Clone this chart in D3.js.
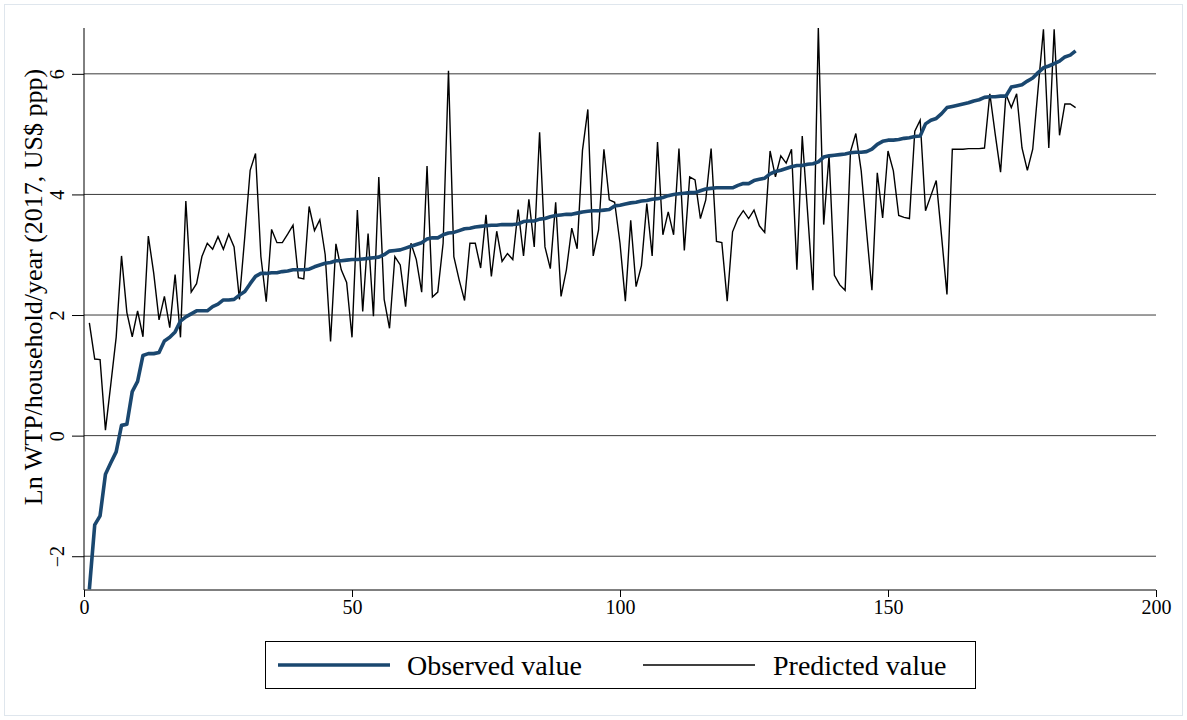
<!DOCTYPE html>
<html>
<head>
<meta charset="utf-8">
<script src="https://d3js.org/d3.v7.min.js"></script>
<style>
  body { margin: 0; background: #fff; }
  text { font-family: "Liberation Serif", "Times New Roman", serif; fill: #000; }
</style>
</head>
<body>
<div id="chart"></div>
<script>
// observed ln WTP, sorted (index 1..185)
var observed = [-2.55,-1.48,-1.33,-0.64,-0.45,-0.27,0.17,0.19,0.73,0.9,
  1.33,1.36,1.36,1.38,1.57,1.63,1.72,1.9,1.97,2.02,
  2.07,2.07,2.07,2.14,2.18,2.25,2.25,2.26,2.33,2.39,
  2.52,2.64,2.69,2.69,2.7,2.7,2.72,2.73,2.75,2.75,
  2.75,2.76,2.8,2.83,2.86,2.87,2.9,2.9,2.91,2.92,
  2.92,2.93,2.94,2.95,2.96,3.0,3.06,3.07,3.08,3.11,
  3.14,3.17,3.2,3.26,3.28,3.28,3.33,3.36,3.37,3.4,
  3.43,3.44,3.46,3.47,3.48,3.49,3.49,3.5,3.5,3.5,
  3.51,3.55,3.56,3.56,3.59,3.6,3.63,3.65,3.66,3.67,
  3.67,3.69,3.71,3.72,3.73,3.73,3.74,3.75,3.81,3.82,
  3.84,3.86,3.87,3.89,3.9,3.92,3.93,3.95,3.98,4.0,
  4.01,4.02,4.03,4.03,4.06,4.09,4.1,4.11,4.11,4.11,
  4.11,4.15,4.18,4.18,4.23,4.25,4.27,4.34,4.38,4.4,
  4.43,4.46,4.48,4.48,4.5,4.51,4.54,4.62,4.64,4.65,
  4.66,4.67,4.69,4.7,4.7,4.71,4.75,4.83,4.88,4.9,
  4.9,4.91,4.93,4.94,4.96,4.97,5.17,5.23,5.26,5.34,
  5.44,5.46,5.48,5.5,5.52,5.55,5.57,5.61,5.62,5.62,
  5.63,5.63,5.78,5.8,5.82,5.88,5.93,6.02,6.1,6.13,
  6.17,6.21,6.28,6.31,6.38];

// predicted ln WTP, same order
var predicted = [1.87,1.27,1.26,0.09,0.85,1.63,2.98,2.04,1.64,2.07,
  1.64,3.31,2.70,1.92,2.31,1.79,2.67,1.63,3.89,2.38,
  2.52,2.97,3.19,3.09,3.30,3.09,3.34,3.13,2.26,3.3,
  4.40,4.68,2.97,2.22,3.42,3.20,3.20,3.34,3.49,2.62,
  2.60,3.80,3.40,3.58,3.00,1.56,3.18,2.75,2.54,1.63,
  3.74,2.06,3.35,1.98,4.29,2.26,1.78,2.97,2.83,2.14,
  3.19,2.92,2.38,4.47,2.30,2.38,3.19,6.05,2.97,2.58,
  2.24,3.19,3.19,2.78,3.66,2.64,3.39,2.89,3.02,2.92,
  3.75,2.98,3.92,3.13,5.03,3.13,2.77,3.87,2.31,2.75,
  3.44,3.10,4.73,5.41,2.98,3.41,4.75,3.91,3.87,3.19,
  2.23,3.57,2.47,2.82,3.85,2.98,4.87,3.33,3.71,3.33,
  4.76,3.07,4.29,4.24,3.60,3.91,4.76,3.22,3.20,2.23,
  3.38,3.60,3.73,3.60,3.74,3.48,3.37,4.72,4.29,4.64,
  4.52,4.75,2.75,4.97,3.70,2.41,6.76,3.50,4.65,2.66,
  2.50,2.41,4.71,5.01,4.39,3.39,2.41,4.36,3.61,4.72,
  4.39,3.65,3.62,3.60,5.05,5.23,3.73,3.98,4.23,3.30,
  2.34,4.75,4.75,4.75,4.76,4.76,4.76,4.77,5.67,5.00,
  4.37,5.66,5.44,5.67,4.77,4.40,4.75,5.75,6.74,4.77,
  6.74,4.98,5.50,5.50,5.44];

var xTicks = [0, 50, 100, 150, 200];
var yTicks = [-2, 0, 2, 4, 6];
var seriesNames = ["Observed value", "Predicted value"];
var yTitle = "Ln WTP/household/year (2017, US$ ppp)";

var W = 1187, H = 720;
var svg = d3.select("#chart").append("svg")
  .attr("width", W).attr("height", H);

svg.append("rect").attr("width", W).attr("height", H).attr("fill", "#fff");
svg.append("rect")
  .attr("x", 4.5).attr("y", 4.5).attr("width", W - 9).attr("height", H - 9)
  .attr("fill", "none").attr("stroke", "#dfe6ed");

var x = d3.scaleLinear().domain([0, 200]).range([84, 1156]);
var y = d3.scaleLinear().domain([-2.56, 6.76]).range([590, 28]);

// grid lines
svg.append("g").selectAll("line").data(yTicks).enter().append("line")
  .attr("x1", x(0)).attr("x2", x(200))
  .attr("y1", function(d) { return y(d); }).attr("y2", function(d) { return y(d); })
  .attr("stroke", "#3a3a3a").attr("stroke-width", 1);

// y axis, Stata style labels rotated
var yAxis = svg.append("g").attr("transform", "translate(84,0)")
  .call(d3.axisLeft(y).tickValues(yTicks).tickSize(12).tickFormat(d3.format("d")));
yAxis.select(".domain").attr("d", "M0," + y.range()[0] + "V" + y.range()[1]).attr("stroke", "#000");
yAxis.selectAll(".tick line").attr("stroke", "#000");
yAxis.selectAll(".tick text")
  .attr("x", null).attr("dy", null)
  .attr("transform", "translate(-20,0) rotate(-90)")
  .attr("text-anchor", "middle")
  .style("font-size", "20px").style("font-family", "Liberation Serif");

// x axis
var xAxis = svg.append("g").attr("transform", "translate(0,590)")
  .call(d3.axisBottom(x).tickValues(xTicks).tickSize(7).tickFormat(d3.format("d")));
xAxis.select(".domain").attr("d", "M" + x(0) + ",0H" + x(200)).attr("stroke", "#000");
xAxis.selectAll(".tick line").attr("stroke", "#000");
xAxis.selectAll(".tick text").attr("y", 10).attr("dy", "0.71em")
  .style("font-size", "20px").style("font-family", "Liberation Serif");

// axis title
svg.append("text")
  .attr("transform", "translate(42,287) rotate(-90)")
  .attr("text-anchor", "middle")
  .style("font-size", "26px")
  .text(yTitle);

var line = d3.line()
  .x(function(d, i) { return x(i + 1); })
  .y(function(d) { return y(d); });

svg.append("path").datum(predicted)
  .attr("d", line).attr("fill", "none")
  .attr("stroke", "#000").attr("stroke-width", 1.4);

svg.append("path").datum(observed)
  .attr("d", line).attr("fill", "none")
  .attr("stroke", "#1a476f").attr("stroke-width", 3.6)
  .attr("stroke-linejoin", "round");

// legend
var lg = svg.append("g");
lg.append("rect").attr("x", 265.5).attr("y", 641.5).attr("width", 710).attr("height", 47)
  .attr("fill", "#fff").attr("stroke", "#000");
var legendItems = [
  { name: seriesNames[0], x1: 278, x2: 390, tx: 407, color: "#1a476f", w: 3.6 },
  { name: seriesNames[1], x1: 643, x2: 755, tx: 773, color: "#000", w: 1.4 }
];
legendItems.forEach(function(it) {
  lg.append("line").attr("x1", it.x1).attr("x2", it.x2).attr("y1", 665).attr("y2", 665)
    .attr("stroke", it.color).attr("stroke-width", it.w);
  lg.append("text").attr("x", it.tx).attr("y", 675)
    .style("font-size", "28px").text(it.name);
});
</script>
</body>
</html>
